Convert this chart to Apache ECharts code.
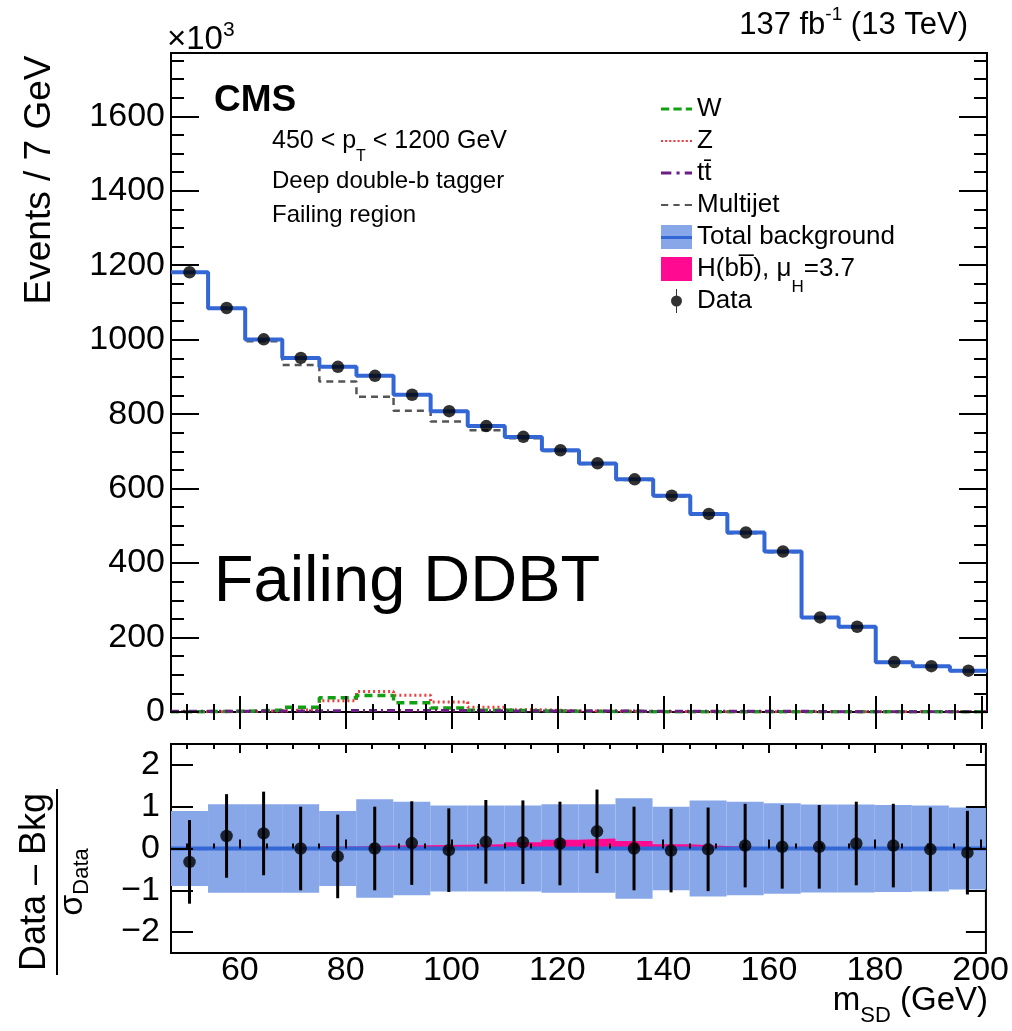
<!DOCTYPE html>
<html><head><meta charset="utf-8">
<script src="https://cdn.jsdelivr.net/npm/echarts@6/dist/echarts.min.js"></script>
<style>html,body{margin:0;padding:0;background:#fff}#c{width:1012px;height:1031px}</style>
</head><body><div id="c"></div>
<script>
// ---------------- data (values in units of 10^3 events) ----------------
const binEdges = [47,54,61,68,75,82,89,96,103,110,117,124,131,138,145,152,159,166,173,180,187,194,201];
const dataVals = [1181,1085,1001,951,927,903,852,808,768,739,703,668,625,581,532,482,431,254,229,134,123,111];
const totalBkg = [1181.4,1084.7,1000.6,951,927.2,903,851.9,808,767.9,738.9,702.9,667.7,625,581,532,481.9,430.9,253.9,228.8,133.9,123,111.1];
const multijet = [1180,1083,996,932,888,847,809,780,757,735,701,666,623,579,530,480,429,253,228,133,122,110];
const wVals   = [1,2,5,13,38,44,25,11,5,3,2,1.5,1,1,1,1,1,0.5,0.5,0.5,0.5,0.5];
const zVals   = [1,1,3,7,30,55,45,27,13,6,3,2,1.5,1,1,1,1,0.5,0.5,0.5,0.5,0.5];
const ttVals  = [2,2,3,3,4,4,4,4,3,3,3,3,2,2,2,2,2,1,1,1,1,1];
const hVals   = [0,0,0,0,0.2,0.4,0.5,0.5,0.6,0.8,1.1,1.2,0.9,0.5,0.3,0.2,0.1,0.05,0,0,0,0];
// pull panel
const pullVals = [-0.32,0.30,0.36,0.0,-0.19,0.0,0.13,-0.04,0.16,0.15,0.12,0.41,0.0,-0.05,-0.02,0.07,0.04,0.04,0.12,0.07,-0.02,-0.10];
const pullErr  = [1,1,1,1,1,1,1,1,1,1,1,1,1,1,1,1,1,1,1,1,1,1];
const bandHalf = [0.90,1.06,1.06,1.06,0.90,1.18,1.12,1.03,1.03,1.03,1.06,1.06,1.20,1.00,1.15,1.12,1.08,1.05,1.05,1.04,1.03,0.98];
const bkgPull  = [0,0,0,0,0,0,0,0,0,0,0,0,0,0,0,0,0,0,0,0,0,0];
const sigPull  = [0,0,0,0,0.05,0.07,0.08,0.09,0.10,0.15,0.21,0.24,0.18,0.10,0.06,0.03,0.01,0,0,0,0,0];
// ticks
const xMajor = [60,80,100,120,140,160,180,200];
const xMinor = [50,55,65,70,75,85,90,95,105,110,115,125,130,135,145,150,155,165,170,175,185,190,195];
const yMajor = [0,200,400,600,800,1000,1200,1400,1600];
const yMinor = [50,100,150,250,300,350,450,500,550,650,700,750,850,900,950,1050,1100,1150,1250,1300,1350,1450,1500,1550,1650,1700,1750];
const pullTicks = [-2,-1,0,1,2];
const xRange = [47,201];
const yRange = [0,1770];
const pullRange = [-2.5,2.5];

// ---------------- helpers ----------------
const FONT = "'Liberation Sans', Arial, Helvetica, sans-serif";
const binCenters = dataVals.map((_, i) => (binEdges[i] + binEdges[i + 1]) / 2);
function stepData(vals) {
  const d = vals.map((v, i) => [binEdges[i], v]);
  d.push([binEdges[vals.length], vals[vals.length - 1]]);
  return d;
}
function tickAx(grid, pos, range, ticks, len, labels, labelOpt) {
  return {
    type: 'value', gridIndex: grid, position: pos, min: range[0], max: range[1],
    axisLine: {show: false}, splitLine: {show: false}, minorTick: {show: false},
    axisTick: {show: true, inside: true, length: len, customValues: ticks, lineStyle: {color: '#000', width: 2}},
    axisLabel: labels ? Object.assign({show: true, customValues: labels, color: '#000', fontFamily: FONT, fontSize: 34,
      formatter: v => String(v).replace('-', '\u2212')}, labelOpt) : {show: false},
    axisPointer: {show: false}, z: 5
  };
}

const BLUE = '#3467d6', PINK = '#ff0a90', BAND = '#87a7e8';
const SIG = 'H(bb\u0305), \u03bcH=3.7';
const TT = 'tt\u0304';
const legendText = {fontSize: 26, fontFamily: FONT, color: '#000',
  rich: {sub: {fontSize: 17, fontFamily: FONT, color: '#000', verticalAlign: 'bottom', height: -10, lineHeight: 10}}};
const legendBase = {padding: 0, orient: 'vertical', itemWidth: 31, itemHeight: 24, itemGap: 6,
  selectedMode: false, textStyle: legendText};

const chart = echarts.init(document.getElementById('c'));
chart.setOption({
  animation: false,
  backgroundColor: '#fff',
  grid: [
    {left: 171, top: 53, width: 816, height: 659, show: true, borderColor: '#000', borderWidth: 2, backgroundColor: 'transparent'},
    {left: 171, top: 744, width: 816, height: 209, show: true, borderColor: '#000', borderWidth: 2, backgroundColor: 'transparent'}
  ],
  xAxis: [
    tickAx(0, 'bottom', xRange, xMajor, 16),
    tickAx(0, 'bottom', xRange, xMinor, 8),
    tickAx(0, 'top', xRange, xMajor, 17),
    tickAx(0, 'top', xRange, xMinor, 8),
    tickAx(1, 'bottom', xRange, xMajor, 9, xMajor, {margin: 1}),
    tickAx(1, 'bottom', xRange, xMinor, 5),
    tickAx(1, 'top', xRange, xMajor, 9),
    tickAx(1, 'top', xRange, xMinor, 5)
  ],
  yAxis: [
    tickAx(0, 'left', yRange, yMajor, 28, yMajor, {margin: 6}),
    tickAx(0, 'left', yRange, yMinor, 13),
    tickAx(0, 'right', yRange, yMajor, 28),
    tickAx(0, 'right', yRange, yMinor, 13),
    tickAx(1, 'left', pullRange, pullTicks, 22, pullTicks, {margin: 11}),
    tickAx(1, 'right', pullRange, pullTicks, 20)
  ],
  legend: [
    Object.assign({}, legendBase, {
      left: 661, top: 96,
      formatter: n => n === SIG ? 'H(bb\u0305), \u03bc{sub|H}=3.7' : n,
      data: [
        {name: 'W', icon: 'path://M0,0H8V3H0Z M12,0H20V3H12Z M24,0H30V3H24Z', itemStyle: {color: '#12a012', borderWidth: 0}},
        {name: 'Z', icon: 'path://M0,0H2V2H0Z M4,0H6V2H4Z M8,0H10V2H8Z M12,0H14V2H12Z M16,0H18V2H16Z M20,0H22V2H20Z M24,0H26V2H24Z M28,0H30V2H28Z', itemStyle: {color: '#ee3b3b', borderWidth: 0}},
        {name: TT, icon: 'path://M0,0H10V3H0Z M15,0H18V3H15Z M23,0H30V3H23Z', itemStyle: {color: '#6b1d86', borderWidth: 0}},
        {name: 'Multijet', icon: 'path://M0,0H7V2H0Z M12,0H18V2H12Z M23,0H30V2H23Z', itemStyle: {color: '#555555', borderWidth: 0}},
        {name: 'Total background', icon: 'rect', itemStyle: {borderWidth: 0, color: {type: 'linear', x: 0, y: 0, x2: 0, y2: 1, colorStops: [
          {offset: 0, color: BAND}, {offset: 0.44, color: BAND}, {offset: 0.44, color: BLUE},
          {offset: 0.58, color: BLUE}, {offset: 0.58, color: BAND}, {offset: 1, color: BAND}]}}},
        {name: SIG, icon: 'rect', itemStyle: {color: PINK, borderWidth: 0}}
      ]
    }),
    Object.assign({}, legendBase, {
      left: 671, top: 288,
      data: [
        {name: 'Data', icon: 'path://M5.5,0H6.5V24H5.5Z M0.5,12A5.5,5.5,0,1,1,11.5,12A5.5,5.5,0,1,1,0.5,12Z', itemStyle: {color: '#000', borderWidth: 0}}
      ]
    })
  ],
  series: [
    {type: 'line', name: 'Z', xAxisIndex: 0, yAxisIndex: 0, data: stepData(zVals), step: 'end', symbol: 'none',
      lineStyle: {color: '#ee3b3b', width: 3, type: [2, 3]}, itemStyle: {color: '#ee3b3b'}, z: 3},
    {type: 'line', name: 'W', xAxisIndex: 0, yAxisIndex: 0, data: stepData(wVals), step: 'end', symbol: 'none',
      lineStyle: {color: '#12a012', width: 3.5, type: [8, 5]}, itemStyle: {color: '#12a012'}, z: 3},
    {type: 'line', name: TT, xAxisIndex: 0, yAxisIndex: 0, data: stepData(ttVals), step: 'end', symbol: 'none',
      lineStyle: {color: '#6b1d86', width: 3, type: [8, 4, 2, 4]}, itemStyle: {color: '#6b1d86'}, z: 3},
    {type: 'line', name: 'Multijet', xAxisIndex: 0, yAxisIndex: 0, data: stepData(multijet), step: 'end', symbol: 'none',
      lineStyle: {color: '#555555', width: 2.5, type: [7, 5]}, itemStyle: {color: '#555555'}, z: 3},
    {type: 'line', name: SIG, xAxisIndex: 0, yAxisIndex: 0, data: stepData(hVals), step: 'end', symbol: 'none',
      lineStyle: {width: 0, color: PINK}, areaStyle: {color: PINK, opacity: 1}, itemStyle: {color: PINK}, z: 3},
    {type: 'line', name: 'Total background', xAxisIndex: 0, yAxisIndex: 0, data: stepData(totalBkg), step: 'end', symbol: 'none',
      lineStyle: {color: BLUE, width: 4}, itemStyle: {color: BLUE}, z: 4},
    {type: 'scatter', name: 'Data', xAxisIndex: 0, yAxisIndex: 0, data: binCenters.map((c, i) => [c, dataVals[i]]),
      symbol: 'circle', symbolSize: 12.5, itemStyle: {color: '#000'}, z: 6},
    // ---- pull panel ----
    {type: 'custom', name: 'bandPull', xAxisIndex: 4, yAxisIndex: 4, clip: true,
      data: bandHalf.map((h, i) => [binEdges[i], binEdges[i + 1], h]),
      renderItem: (params, api) => {
        const p1 = api.coord([api.value(0), api.value(2)]);
        const p2 = api.coord([api.value(1), -api.value(2)]);
        return {type: 'rect', shape: {x: p1[0], y: p1[1], width: p2[0] - p1[0], height: p2[1] - p1[1]},
          style: {fill: BAND}};
      }, z: 2},
    {type: 'line', name: 'bkgPull', xAxisIndex: 4, yAxisIndex: 4, data: stepData(bkgPull), step: 'end', symbol: 'none',
      lineStyle: {color: BLUE, width: 4}, z: 3},
    {type: 'line', name: 'sigPull', xAxisIndex: 4, yAxisIndex: 4, data: stepData(sigPull), step: 'end', symbol: 'none',
      lineStyle: {width: 0, color: PINK}, areaStyle: {color: PINK, opacity: 1}, z: 3},
    {type: 'custom', name: 'pullErr', xAxisIndex: 4, yAxisIndex: 4, clip: true,
      data: binCenters.map((c, i) => [c, pullVals[i] - pullErr[i], pullVals[i] + pullErr[i]]),
      renderItem: (params, api) => {
        const a = api.coord([api.value(0), api.value(1)]);
        const b = api.coord([api.value(0), api.value(2)]);
        return {type: 'line', shape: {x1: a[0], y1: a[1], x2: b[0], y2: b[1]}, style: {stroke: '#000', lineWidth: 3}};
      }, z: 5},
    {type: 'scatter', name: 'pullData', xAxisIndex: 4, yAxisIndex: 4, data: binCenters.map((c, i) => [c, pullVals[i]]),
      symbol: 'circle', symbolSize: 12.5, itemStyle: {color: '#000'}, z: 6}
  ],
  graphic: [
    {type: 'text', left: 167, top: 20, style: {text: '{a|\u00d710}{b|3}', rich: {
      a: {fontSize: 33, fontFamily: FONT, fill: '#000', lineHeight: 36, verticalAlign: 'bottom'},
      b: {fontSize: 21, fontFamily: FONT, fill: '#000', lineHeight: 20, verticalAlign: 'top'}}}},
    {type: 'text', right: 44, top: 5, style: {text: '{a|137 fb}{b|-1}{a| (13 TeV)}', rich: {
      a: {fontSize: 31, fontFamily: FONT, fill: '#000', lineHeight: 36, verticalAlign: 'bottom'},
      b: {fontSize: 19, fontFamily: FONT, fill: '#000', lineHeight: 20, verticalAlign: 'top'}}}},
    {type: 'text', left: 214, top: 82, style: {text: 'CMS', fontSize: 37, fontWeight: 'bold', fontFamily: FONT, fill: '#000'}},
    {type: 'text', left: 272, top: 129, style: {text: '450 < p{s|T} < 1200 GeV', fontSize: 25, fontFamily: FONT, fill: '#000',
      rich: {s: {fontSize: 16, fontFamily: FONT, fill: '#000', verticalAlign: 'bottom', height: -6}}}},
    {type: 'text', left: 272, top: 169, style: {text: 'Deep double-b tagger', fontSize: 24, fontFamily: FONT, fill: '#000'}},
    {type: 'text', left: 272, top: 203, style: {text: 'Failing region', fontSize: 24, fontFamily: FONT, fill: '#000'}},
    {type: 'text', left: 213, top: 550, style: {text: 'Failing DDBT', fontSize: 65, fontFamily: FONT, fill: '#000',
      stroke: '#fff', lineWidth: 1.6}},
    {type: 'text', x: 40, y: 180, rotation: Math.PI / 2, style: {text: 'Events / 7 GeV', fontSize: 37, fontFamily: FONT, fill: '#000', align: 'center', verticalAlign: 'middle'}},
    {type: 'group', x: 57, y: 882, rotation: Math.PI / 2, children: [
      {type: 'text', x: 0, y: -22, style: {text: 'Data \u2013 Bkg', fontSize: 36, fontFamily: FONT, fill: '#000', align: 'center', verticalAlign: 'middle'}},
      {type: 'line', shape: {x1: -93, y1: 0, x2: 93, y2: 0}, style: {stroke: '#000', lineWidth: 2}},
      {type: 'text', x: 0, y: 16, style: {text: '{a|\u03c3}{b|Data}', align: 'center', verticalAlign: 'middle', rich: {
        a: {fontSize: 34, fontFamily: FONT, fill: '#000'},
        b: {fontSize: 22, fontFamily: FONT, fill: '#000', verticalAlign: 'bottom', height: 16}}}}
    ]},
    {type: 'text', right: 24, top: 984, style: {text: 'm{b|SD} (GeV)', fontSize: 33, fontFamily: FONT, fill: '#000', rich: {
      b: {fontSize: 22, fontFamily: FONT, fill: '#000', verticalAlign: 'bottom', height: 2}}}}
  ]
});
</script>
</body></html>
